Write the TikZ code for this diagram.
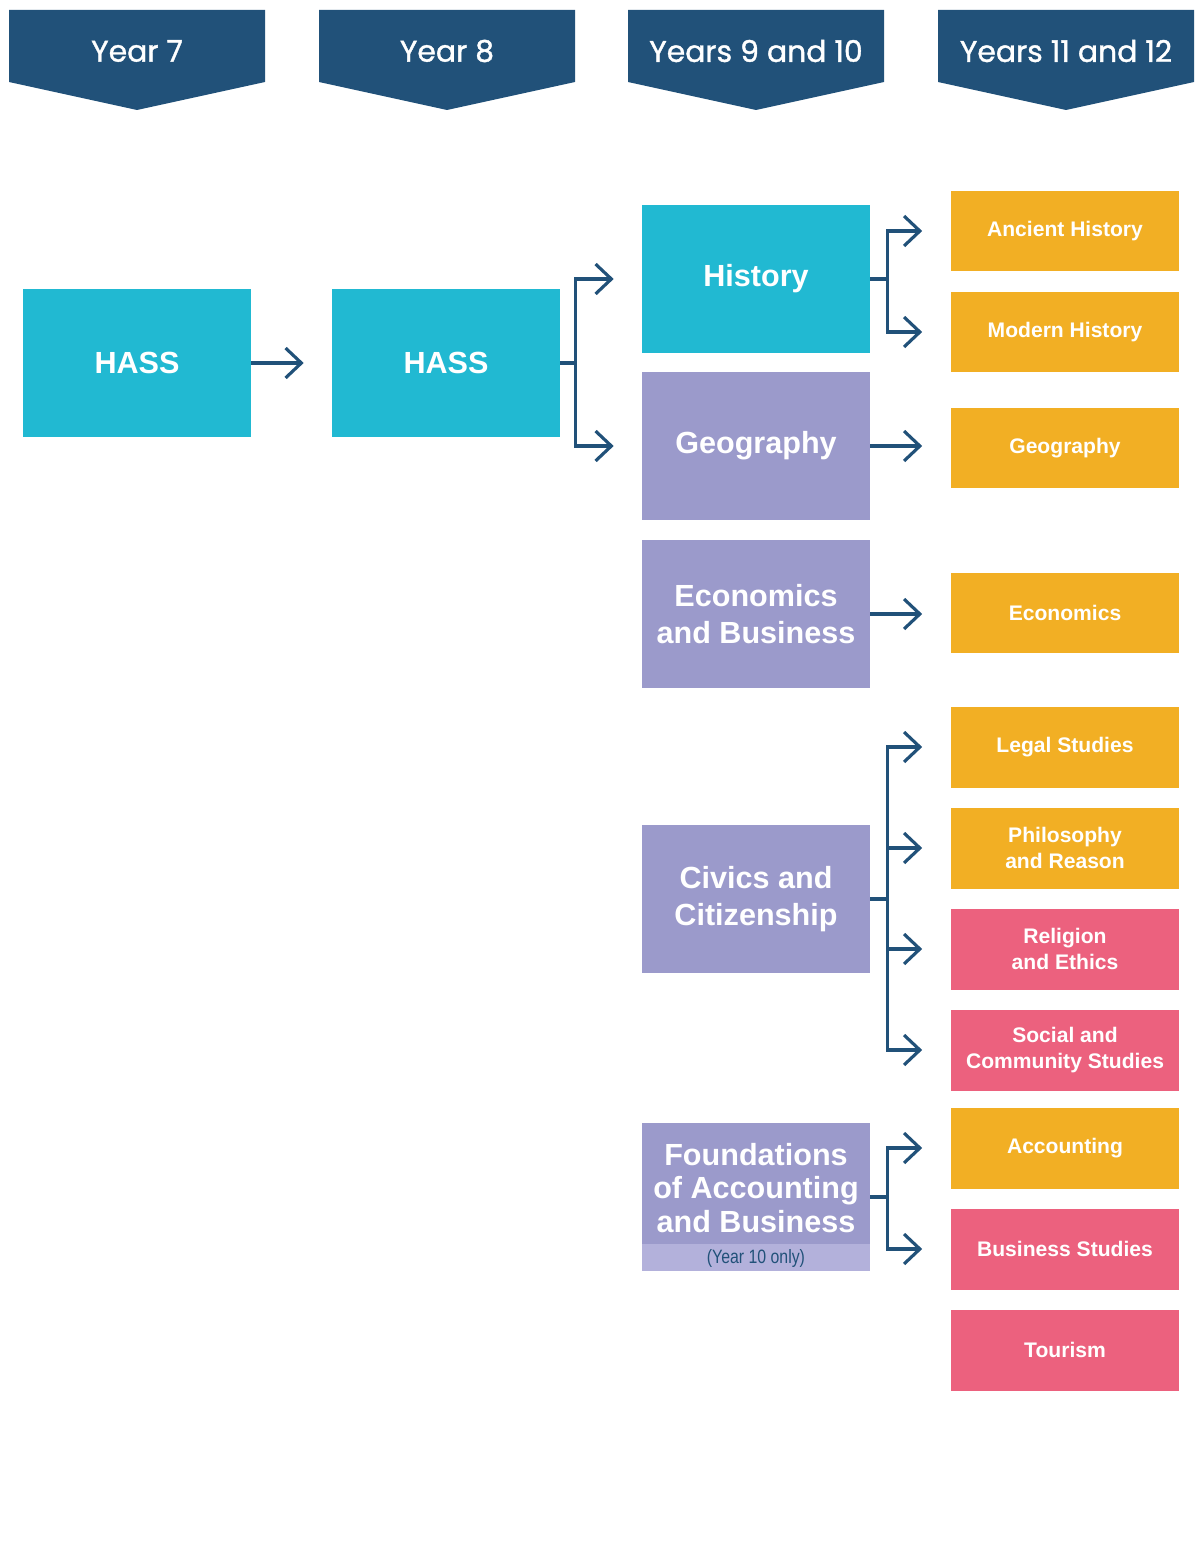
\documentclass[tikz,border=0pt]{standalone}
\usepackage{fontspec}
\setmainfont{Liberation Sans}
\newfontfamily\headfont[FakeBold=1.2]{Poppins}
\newfontfamily\narrowfont[FakeStretch=0.82]{Liberation Sans}
\usetikzlibrary{arrows.meta,positioning}

\definecolor{hdblue}{HTML}{215179}
\definecolor{hasscyan}{HTML}{21B9D2}
\definecolor{lav}{HTML}{9B9ACB}
\definecolor{lavlight}{HTML}{B3B1DB}
\definecolor{gold}{HTML}{F2AF24}
\definecolor{rose}{HTML}{EC617E}

\tikzset{
  bigbox/.style={minimum width=4.56cm, minimum height=2.96cm, inner sep=0pt,
    text=white, align=center, font=\fontsize{17.4}{20.6}\selectfont\bfseries},
  subjbox/.style={minimum width=4.58cm, minimum height=1.62cm, inner sep=0pt,
    text=white, align=center, font=\fontsize{12}{14.5}\selectfont\bfseries},
  headtxt/.style={text=white, font=\headfont\fontsize{17}{19}\selectfont},
  link/.style={draw=hdblue, line width=1.8pt},
  arr/.style={link, -{Straight Barb[length=9pt, width=17pt, line width=1.8pt]}, shorten >=0.56cm}
}

\begin{document}
\begin{tikzpicture}[x=0.02cm, y=-0.02cm]
    \useasboundingbox (0,0) rectangle (1198,1544);

    % year headers
    \foreach \x/\name/\txt in {9/y7/Year 7, 319/y8/Year 8, 628/y910/Years 9 and 10, 938/y1112/Years 11 and 12}{
        \fill[hdblue] (\x,10) -- (\x+256,10) -- (\x+256,82) -- (\x+128,110) -- (\x,82) -- cycle;
        \node[headtxt] (\name) at (\x+128,51) {\txt};
    }

    % year 7 and 8
    \node[bigbox, fill=hasscyan] (hass7) at (137,363) {HASS};
    \node[bigbox, fill=hasscyan] (hass8) at (446,363) {HASS};

    % years 9 and 10
    \node[bigbox, fill=hasscyan] (hist) at (756,279) {History};
    \node[bigbox, fill=lav] (geo) at (756,446) {Geography};
    \node[bigbox, fill=lav] (econ) at (756,614) {Economics\\and Business};
    \node[bigbox, fill=lav] (civ) at (756,899) {Civics and\\Citizenship};
    \node[bigbox, fill=lav] (fnd) at (756,1197) {};
    \fill[lavlight] (fnd.south west) rectangle ([yshift=0.54cm]fnd.south east);
    \node[text=white, align=center, font=\fontsize{17.4}{19}\selectfont\bfseries] (fndtxt) at (756,1188) {Foundations\\of Accounting\\and Business};
    \node[text=hdblue, font=\narrowfont\fontsize{11}{12}\selectfont] (fndnote) at (756,1258) {(Year 10 only)};

    % years 11 and 12
    \node[subjbox, fill=gold] (anc) at (1065,231) {Ancient History};
    \node[subjbox, fill=gold] (mod) at (1065,332) {Modern History};
    \node[subjbox, fill=gold] (geo2) at (1065,448) {Geography};
    \node[subjbox, fill=gold] (econ2) at (1065,613) {Economics};
    \node[subjbox, fill=gold] (legal) at (1065,747) {Legal Studies};
    \node[subjbox, fill=gold] (phil) at (1065,848) {Philosophy\\and Reason};
    \node[subjbox, fill=rose] (rel) at (1065,949) {Religion\\and Ethics};
    \node[subjbox, fill=rose] (soc) at (1065,1050) {Social and\\Community Studies};
    \node[subjbox, fill=gold] (acc) at (1065,1148) {Accounting};
    \node[subjbox, fill=rose] (bus) at (1065,1249) {Business Studies};
    \node[subjbox, fill=rose] (tour) at (1065,1350) {Tourism};

    % connectors
    \draw[arr] (hass7.east) -- (hass8.west);
    \draw[link] (hass8.east) -- ++(15,0) coordinate (j8);
    \draw[arr] (j8) |- (hist.west);
    \draw[arr] (j8) |- (geo.west);

    \draw[link] (hist.east) -- ++(17,0) coordinate (jh);
    \draw[arr] (jh) |- (anc.west);
    \draw[arr] (jh) |- (mod.west);
    \draw[arr] (geo.east) -- (geo.east -| geo2.west);
    \draw[arr] (econ.east) -- (econ.east -| econ2.west);

    \draw[link] (civ.east) -- ++(17,0) coordinate (jc);
    \foreach \t in {legal, phil, rel, soc}
        \draw[arr] (jc) |- (\t.west);

    \draw[link] (fnd.east) -- ++(17,0) coordinate (jf);
    \draw[arr] (jf) |- (acc.west);
    \draw[arr] (jf) |- (bus.west);
\end{tikzpicture}
\end{document}
